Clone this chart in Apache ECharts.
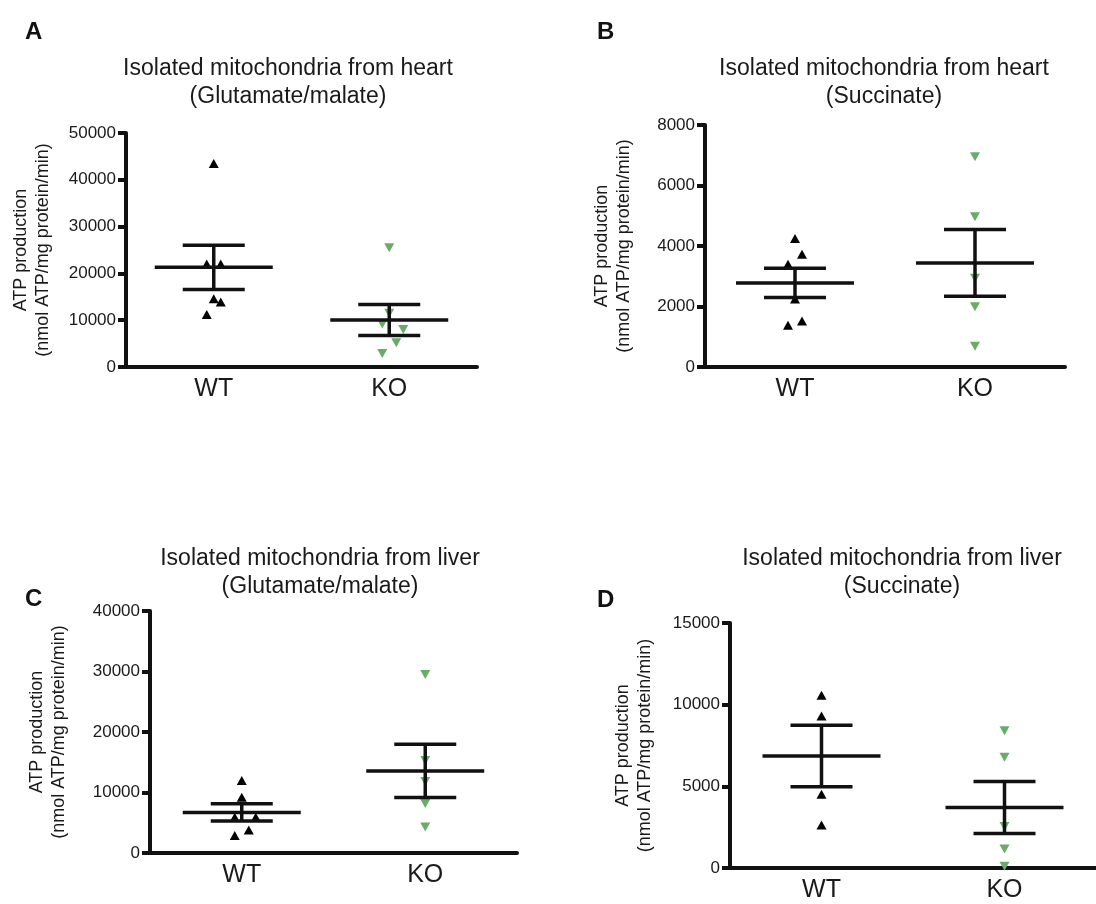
<!DOCTYPE html>
<html><head><meta charset="utf-8">
<script src="https://cdn.jsdelivr.net/npm/echarts@6/dist/echarts.min.js"></script>
<style>html,body{margin:0;padding:0;background:#fff}#c{width:1096px;height:904px}</style>
</head><body><div id="c"></div>
<script>
// ---- data ----
const categories = ['WT', 'KO'];
const panelLetters = ['A', 'B', 'C', 'D'];
const panelTitles = [
  'Isolated mitochondria from heart\n(Glutamate/malate)',
  'Isolated mitochondria from heart\n(Succinate)',
  'Isolated mitochondria from liver\n(Glutamate/malate)',
  'Isolated mitochondria from liver\n(Succinate)'
];
const yAxisName = 'ATP production\n(nmol ATP/mg protein/min)';
const yMax = [50000, 8000, 40000, 15000];
const yStep = [10000, 2000, 10000, 5000];

// individual points: [value, jitter column]
const heartGluWT = [[43500,0],[22000,-1],[22000,1],[14600,0],[13900,1],[11200,-1]];
const heartGluKO = [[25500,0],[11500,0],[9200,-1],[8000,2],[5200,1],[2900,-1]];
const heartSucWT = [[4250,0],[3730,1],[3400,-1],[2250,0],[1520,1],[1380,-1]];
const heartSucKO = [[6950,0],[4970,0],[2930,0],[1990,0],[690,0]];
const liverGluWT = [[12000,0],[9200,0],[5900,-1],[5900,2],[3800,1],[2900,-1]];
const liverGluKO = [[29500,0],[15300,0],[11800,0],[8200,0],[4300,0]];
const liverSucWT = [[10580,0],[9300,0],[4520,0],[2640,0]];
const liverSucKO = [[8400,0],[6780,0],[2540,0],[1160,0],[100,0]];

// mean and SEM: [WT, KO]
const heartGluMean = [21300, 10040], heartGluSem = [4740, 3310];
const heartSucMean = [2780, 3440],   heartSucSem = [485, 1105];
const liverGluMean = [6700, 13560],  liverGluSem = [1430, 4400];
const liverSucMean = [6860, 3700],   liverSucSem = [1885, 1595];

const panels = [
  {wt: heartGluWT, ko: heartGluKO, mean: heartGluMean, sem: heartGluSem},
  {wt: heartSucWT, ko: heartSucKO, mean: heartSucMean, sem: heartSucSem},
  {wt: liverGluWT, ko: liverGluKO, mean: liverGluMean, sem: liverGluSem},
  {wt: liverSucWT, ko: liverSucKO, mean: liverSucMean, sem: liverSucSem}
];

// ---- layout ----
const FONT = 'Liberation Sans, Arial, sans-serif';
const INK = '#111';
const GREEN = '#6aab6a';
const grids = [
  {left: 126, top: 133, width: 351, height: 234},
  {left: 705, top: 125, width: 360, height: 242},
  {left: 150, top: 611, width: 367, height: 242},
  {left: 730, top: 623, width: 370, height: 245}
];
const nameGaps = [72, 70, 80, 74];
const titlePos = [
  {x: 288, y: 55}, {x: 884, y: 55}, {x: 320, y: 545}, {x: 902, y: 545}
];
const letterPos = [
  {x: 25, y: 20}, {x: 597, y: 20}, {x: 25, y: 587}, {x: 597, y: 588}
];
const JIT = 7;

const option = {
  animation: false,
  backgroundColor: '#fff',
  textStyle: {fontFamily: FONT},
  title: [],
  grid: grids.map(g => Object.assign({containLabel: false}, g)),
  xAxis: [], yAxis: [], series: []
};

panels.forEach((p, i) => {
  option.title.push({
    text: panelLetters[i], left: letterPos[i].x, top: letterPos[i].y, padding: 0,
    textStyle: {fontFamily: FONT, fontSize: 24, fontWeight: 'bold', color: INK}
  });
  option.title.push({
    text: panelTitles[i], left: titlePos[i].x, top: titlePos[i].y, textAlign: 'center', padding: 0,
    textStyle: {fontFamily: FONT, fontSize: 23, fontWeight: 'normal', color: '#1a1a1a', lineHeight: 28}
  });
  option.xAxis.push({
    type: 'category', gridIndex: i, data: categories, boundaryGap: true,
    axisLine: {lineStyle: {color: INK, width: 4}},
    axisTick: {alignWithLabel: true, length: 7, lineStyle: {color: INK, width: 4}},
    axisLabel: {fontFamily: FONT, fontSize: 25, color: '#1a1a1a', margin: 10},
    splitLine: {show: false}
  });
  option.yAxis.push({
    type: 'value', gridIndex: i, min: 0, max: yMax[i], interval: yStep[i],
    name: yAxisName, nameLocation: 'middle', nameGap: nameGaps[i], nameRotate: 90,
    nameTextStyle: {fontFamily: FONT, fontSize: 18, color: '#1a1a1a', lineHeight: 22},
    axisLine: {show: true, lineStyle: {color: INK, width: 4}},
    axisTick: {show: true, length: 8, lineStyle: {color: INK, width: 4}},
    axisLabel: {fontFamily: FONT, fontSize: 17, color: '#1a1a1a', margin: 10,
      formatter: v => String(v)},
    splitLine: {show: false}
  });
  const groups = [p.wt, p.ko];
  groups.forEach((pts, c) => {
    option.series.push({
      type: 'scatter', xAxisIndex: i, yAxisIndex: i,
      symbol: 'triangle', symbolRotate: c === 0 ? 0 : 180, symbolSize: [10, 9],
      itemStyle: {color: c === 0 ? '#000' : GREEN, opacity: 1},
      data: pts.map(d => ({value: [c, d[0]], symbolOffset: [d[1] * JIT, 0]})),
      z: 2
    });
  });
  option.series.push({
    type: 'custom', xAxisIndex: i, yAxisIndex: i, z: 3,
    data: categories.map((_, c) => [c, p.mean[c], p.sem[c]]),
    renderItem: function (params, api) {
      const c = api.value(0), m = api.value(1), s = api.value(2);
      const mid = api.coord([c, m]);
      const hi = api.coord([c, m + s]);
      const lo = api.coord([c, m - s]);
      const st = {stroke: INK, lineWidth: 3.5};
      const x = mid[0];
      return {type: 'group', children: [
        {type: 'line', shape: {x1: x - 59, y1: mid[1], x2: x + 59, y2: mid[1]}, style: st},
        {type: 'line', shape: {x1: x - 31, y1: hi[1], x2: x + 31, y2: hi[1]}, style: st},
        {type: 'line', shape: {x1: x - 31, y1: lo[1], x2: x + 31, y2: lo[1]}, style: st},
        {type: 'line', shape: {x1: x, y1: hi[1], x2: x, y2: lo[1]}, style: st}
      ]};
    }
  });
});

const chart = echarts.init(document.getElementById('c'), null, {renderer: 'canvas'});
chart.setOption(option);
</script></body></html>
